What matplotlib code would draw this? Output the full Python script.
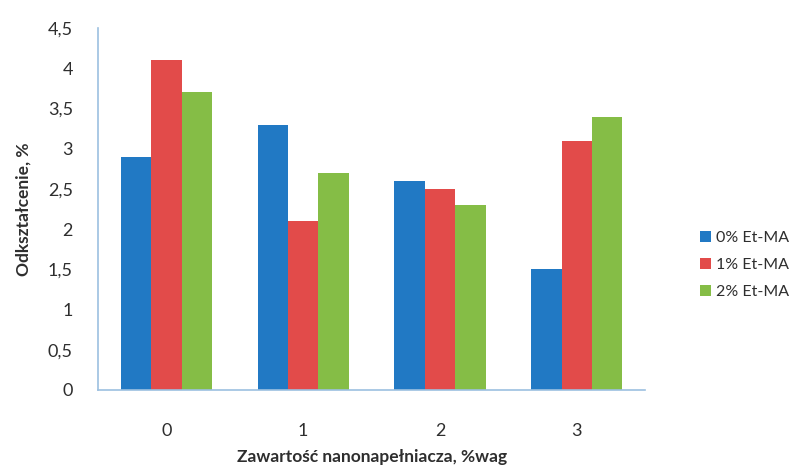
import numpy as np
import matplotlib
matplotlib.use("Agg")
import matplotlib.pyplot as plt

# data
categories = ["0", "1", "2", "3"]
series_names = ["0% Et-MA", "1% Et-MA", "2% Et-MA"]
et0 = [2.9, 3.3, 2.6, 1.5]
et1 = [4.1, 2.1, 2.5, 3.1]
et2 = [3.7, 2.7, 2.3, 3.4]
yticks = [0, 0.5, 1, 1.5, 2, 2.5, 3, 3.5, 4, 4.5]
ytick_labels = ["0", "0,5", "1", "1,5", "2", "2,5", "3", "3,5", "4", "4,5"]

colors = ["#2179c4", "#e24b4a", "#85bd46"]
axis_col = "#9cc0e0"
ink = "#2e2e2e"

plt.rcParams["font.family"] = ["Lato", "DejaVu Sans"]

fig = plt.figure(figsize=(8, 4.68), dpi=100)
ax = fig.add_axes([0.1225, 0.167, 0.684, 0.773])

x = np.arange(len(categories))
w = 1 / 4.5
for i, (vals, name, c) in enumerate(zip([et0, et1, et2], series_names, colors)):
    ax.bar(x + (i - 1) * w, vals, width=w, color=c, label=name)

ax.set_xlim(-0.5, len(categories) - 0.5)
ax.set_ylim(0, 4.5)
ax.set_xticks(x)
ax.set_xticklabels(categories)
ax.set_yticks(yticks)
ax.set_yticklabels(ytick_labels)
ax.tick_params(axis="x", length=0, pad=24, labelsize=13, colors=ink)
ax.tick_params(axis="y", length=0, pad=18, labelsize=13, colors=ink)
for s in ("top", "right"):
    ax.spines[s].set_visible(False)
for s in ("left", "bottom"):
    ax.spines[s].set_color(axis_col)
    ax.spines[s].set_linewidth(1.2)

ax.set_ylabel("Odkształcenie, %", fontsize=12.5, weight="bold", color=ink, labelpad=12)
ax.set_xlabel("Zawartość nanonapełniacza, %wag", fontsize=12.5, weight="bold",
              color=ink, labelpad=7)

ax.legend(loc="center left", bbox_to_anchor=(1.1, 0.345), frameon=False,
          fontsize=11.5, handlelength=0.7, handleheight=0.7, handletextpad=0.3,
          labelspacing=0.8, labelcolor=ink, borderaxespad=0, borderpad=0)

fig.savefig("out.png", dpi=100, facecolor="white")
